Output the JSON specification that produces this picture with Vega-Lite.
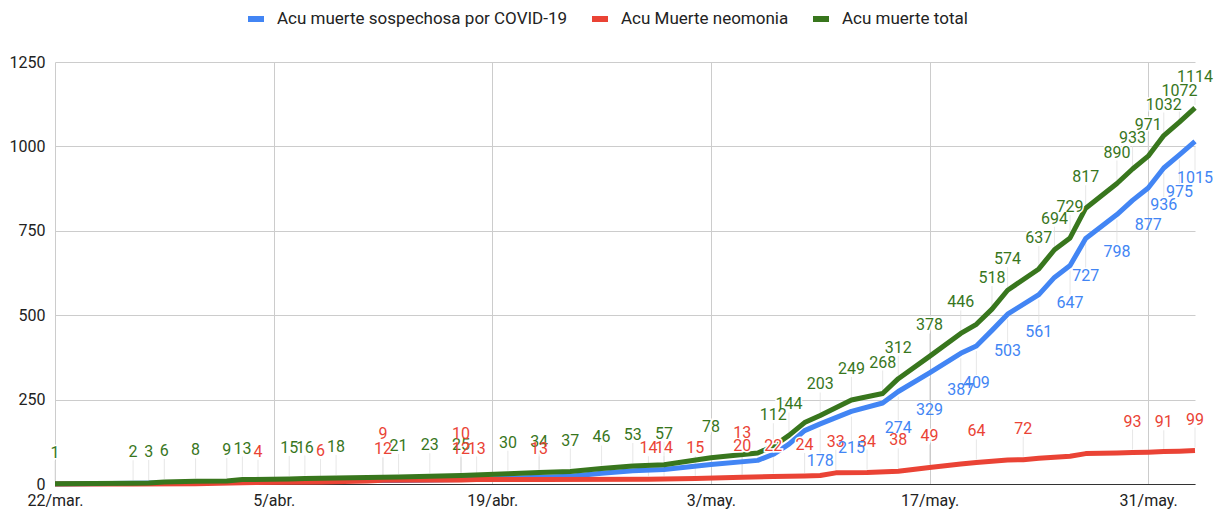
{
  "$schema": "https://vega.github.io/schema/vega-lite/v6.json",
  "width": 1140,
  "height": 422,
  "autosize": {"type": "none"},
  "padding": {"left": 55, "top": 62, "right": 26, "bottom": 29},
  "background": "white",
  "config": {
    "view": {"stroke": null},
    "font": "Roboto",
    "axis": {"labelFont": "Roboto", "labelColor": "#222222", "labelFontSize": 16, "ticks": false, "title": null, "gridColor": "#cccccc", "gridWidth": 1}
  },
  "datasets": {
    "lineas": [
      {"fecha": "2020-03-22T00:00", "serie": "Acu muerte sospechosa por COVID-19", "valor": 0},
      {"fecha": "2020-03-29T00:00", "serie": "Acu muerte sospechosa por COVID-19", "valor": 3},
      {"fecha": "2020-04-03T00:00", "serie": "Acu muerte sospechosa por COVID-19", "valor": 8},
      {"fecha": "2020-04-09T00:00", "serie": "Acu muerte sospechosa por COVID-19", "valor": 10},
      {"fecha": "2020-04-13T00:00", "serie": "Acu muerte sospechosa por COVID-19", "valor": 10},
      {"fecha": "2020-04-17T00:00", "serie": "Acu muerte sospechosa por COVID-19", "valor": 13},
      {"fecha": "2020-04-20T00:00", "serie": "Acu muerte sospechosa por COVID-19", "valor": 17},
      {"fecha": "2020-04-24T00:00", "serie": "Acu muerte sospechosa por COVID-19", "valor": 23},
      {"fecha": "2020-04-26T00:00", "serie": "Acu muerte sospechosa por COVID-19", "valor": 32},
      {"fecha": "2020-04-28T00:00", "serie": "Acu muerte sospechosa por COVID-19", "valor": 39},
      {"fecha": "2020-04-30T00:00", "serie": "Acu muerte sospechosa por COVID-19", "valor": 43},
      {"fecha": "2020-05-03T00:00", "serie": "Acu muerte sospechosa por COVID-19", "valor": 58},
      {"fecha": "2020-05-06T00:00", "serie": "Acu muerte sospechosa por COVID-19", "valor": 70},
      {"fecha": "2020-05-07T00:00", "serie": "Acu muerte sospechosa por COVID-19", "valor": 88},
      {"fecha": "2020-05-08T00:00", "serie": "Acu muerte sospechosa por COVID-19", "valor": 118},
      {"fecha": "2020-05-09T00:00", "serie": "Acu muerte sospechosa por COVID-19", "valor": 158},
      {"fecha": "2020-05-10T00:00", "serie": "Acu muerte sospechosa por COVID-19", "valor": 178},
      {"fecha": "2020-05-12T00:00", "serie": "Acu muerte sospechosa por COVID-19", "valor": 215},
      {"fecha": "2020-05-14T00:00", "serie": "Acu muerte sospechosa por COVID-19", "valor": 240},
      {"fecha": "2020-05-15T00:00", "serie": "Acu muerte sospechosa por COVID-19", "valor": 274},
      {"fecha": "2020-05-17T00:00", "serie": "Acu muerte sospechosa por COVID-19", "valor": 329},
      {"fecha": "2020-05-19T00:00", "serie": "Acu muerte sospechosa por COVID-19", "valor": 387},
      {"fecha": "2020-05-20T00:00", "serie": "Acu muerte sospechosa por COVID-19", "valor": 409},
      {"fecha": "2020-05-21T00:00", "serie": "Acu muerte sospechosa por COVID-19", "valor": 455},
      {"fecha": "2020-05-22T00:00", "serie": "Acu muerte sospechosa por COVID-19", "valor": 503},
      {"fecha": "2020-05-24T00:00", "serie": "Acu muerte sospechosa por COVID-19", "valor": 561},
      {"fecha": "2020-05-25T00:00", "serie": "Acu muerte sospechosa por COVID-19", "valor": 612},
      {"fecha": "2020-05-26T00:00", "serie": "Acu muerte sospechosa por COVID-19", "valor": 647},
      {"fecha": "2020-05-27T00:00", "serie": "Acu muerte sospechosa por COVID-19", "valor": 727},
      {"fecha": "2020-05-29T00:00", "serie": "Acu muerte sospechosa por COVID-19", "valor": 798},
      {"fecha": "2020-05-30T00:00", "serie": "Acu muerte sospechosa por COVID-19", "valor": 840},
      {"fecha": "2020-05-31T00:00", "serie": "Acu muerte sospechosa por COVID-19", "valor": 877},
      {"fecha": "2020-06-01T00:00", "serie": "Acu muerte sospechosa por COVID-19", "valor": 936},
      {"fecha": "2020-06-02T00:00", "serie": "Acu muerte sospechosa por COVID-19", "valor": 975},
      {"fecha": "2020-06-03T00:00", "serie": "Acu muerte sospechosa por COVID-19", "valor": 1015},
      {"fecha": "2020-03-22T00:00", "serie": "Acu Muerte neomonia", "valor": 0},
      {"fecha": "2020-03-27T00:00", "serie": "Acu Muerte neomonia", "valor": 0},
      {"fecha": "2020-03-31T00:00", "serie": "Acu Muerte neomonia", "valor": 1},
      {"fecha": "2020-04-03T00:00", "serie": "Acu Muerte neomonia", "valor": 4},
      {"fecha": "2020-04-08T00:00", "serie": "Acu Muerte neomonia", "valor": 6},
      {"fecha": "2020-04-11T00:00", "serie": "Acu Muerte neomonia", "valor": 9},
      {"fecha": "2020-04-12T00:00", "serie": "Acu Muerte neomonia", "valor": 11},
      {"fecha": "2020-04-17T00:00", "serie": "Acu Muerte neomonia", "valor": 12},
      {"fecha": "2020-04-18T00:00", "serie": "Acu Muerte neomonia", "valor": 13},
      {"fecha": "2020-04-22T00:00", "serie": "Acu Muerte neomonia", "valor": 13},
      {"fecha": "2020-04-29T00:00", "serie": "Acu Muerte neomonia", "valor": 14},
      {"fecha": "2020-04-30T00:00", "serie": "Acu Muerte neomonia", "valor": 15},
      {"fecha": "2020-05-02T00:00", "serie": "Acu Muerte neomonia", "valor": 16},
      {"fecha": "2020-05-05T00:00", "serie": "Acu Muerte neomonia", "valor": 20},
      {"fecha": "2020-05-07T00:00", "serie": "Acu Muerte neomonia", "valor": 22},
      {"fecha": "2020-05-09T00:00", "serie": "Acu Muerte neomonia", "valor": 24},
      {"fecha": "2020-05-10T00:00", "serie": "Acu Muerte neomonia", "valor": 25},
      {"fecha": "2020-05-11T00:00", "serie": "Acu Muerte neomonia", "valor": 33},
      {"fecha": "2020-05-13T00:00", "serie": "Acu Muerte neomonia", "valor": 34},
      {"fecha": "2020-05-15T00:00", "serie": "Acu Muerte neomonia", "valor": 38},
      {"fecha": "2020-05-17T00:00", "serie": "Acu Muerte neomonia", "valor": 49},
      {"fecha": "2020-05-19T00:00", "serie": "Acu Muerte neomonia", "valor": 59},
      {"fecha": "2020-05-20T00:00", "serie": "Acu Muerte neomonia", "valor": 64},
      {"fecha": "2020-05-22T00:00", "serie": "Acu Muerte neomonia", "valor": 71},
      {"fecha": "2020-05-23T00:00", "serie": "Acu Muerte neomonia", "valor": 72},
      {"fecha": "2020-05-24T00:00", "serie": "Acu Muerte neomonia", "valor": 76},
      {"fecha": "2020-05-26T00:00", "serie": "Acu Muerte neomonia", "valor": 82},
      {"fecha": "2020-05-27T00:00", "serie": "Acu Muerte neomonia", "valor": 90},
      {"fecha": "2020-05-29T00:00", "serie": "Acu Muerte neomonia", "valor": 92},
      {"fecha": "2020-05-30T00:00", "serie": "Acu Muerte neomonia", "valor": 93},
      {"fecha": "2020-05-31T00:00", "serie": "Acu Muerte neomonia", "valor": 94},
      {"fecha": "2020-06-01T00:00", "serie": "Acu Muerte neomonia", "valor": 96},
      {"fecha": "2020-06-02T00:00", "serie": "Acu Muerte neomonia", "valor": 97},
      {"fecha": "2020-06-03T00:00", "serie": "Acu Muerte neomonia", "valor": 99},
      {"fecha": "2020-03-22T00:00", "serie": "Acu muerte total", "valor": 1},
      {"fecha": "2020-03-27T00:00", "serie": "Acu muerte total", "valor": 2},
      {"fecha": "2020-03-28T00:00", "serie": "Acu muerte total", "valor": 3},
      {"fecha": "2020-03-29T00:00", "serie": "Acu muerte total", "valor": 6},
      {"fecha": "2020-03-31T00:00", "serie": "Acu muerte total", "valor": 8},
      {"fecha": "2020-04-02T00:00", "serie": "Acu muerte total", "valor": 9},
      {"fecha": "2020-04-03T00:00", "serie": "Acu muerte total", "valor": 13},
      {"fecha": "2020-04-06T00:00", "serie": "Acu muerte total", "valor": 15},
      {"fecha": "2020-04-07T00:00", "serie": "Acu muerte total", "valor": 16},
      {"fecha": "2020-04-09T00:00", "serie": "Acu muerte total", "valor": 18},
      {"fecha": "2020-04-13T00:00", "serie": "Acu muerte total", "valor": 21},
      {"fecha": "2020-04-15T00:00", "serie": "Acu muerte total", "valor": 23},
      {"fecha": "2020-04-17T00:00", "serie": "Acu muerte total", "valor": 25},
      {"fecha": "2020-04-20T00:00", "serie": "Acu muerte total", "valor": 30},
      {"fecha": "2020-04-22T00:00", "serie": "Acu muerte total", "valor": 34},
      {"fecha": "2020-04-24T00:00", "serie": "Acu muerte total", "valor": 37},
      {"fecha": "2020-04-26T00:00", "serie": "Acu muerte total", "valor": 46},
      {"fecha": "2020-04-28T00:00", "serie": "Acu muerte total", "valor": 53},
      {"fecha": "2020-04-30T00:00", "serie": "Acu muerte total", "valor": 57},
      {"fecha": "2020-05-03T00:00", "serie": "Acu muerte total", "valor": 78},
      {"fecha": "2020-05-06T00:00", "serie": "Acu muerte total", "valor": 92},
      {"fecha": "2020-05-07T00:00", "serie": "Acu muerte total", "valor": 112},
      {"fecha": "2020-05-08T00:00", "serie": "Acu muerte total", "valor": 144},
      {"fecha": "2020-05-09T00:00", "serie": "Acu muerte total", "valor": 182},
      {"fecha": "2020-05-10T00:00", "serie": "Acu muerte total", "valor": 203},
      {"fecha": "2020-05-12T00:00", "serie": "Acu muerte total", "valor": 249},
      {"fecha": "2020-05-14T00:00", "serie": "Acu muerte total", "valor": 268},
      {"fecha": "2020-05-15T00:00", "serie": "Acu muerte total", "valor": 312},
      {"fecha": "2020-05-17T00:00", "serie": "Acu muerte total", "valor": 378},
      {"fecha": "2020-05-19T00:00", "serie": "Acu muerte total", "valor": 446},
      {"fecha": "2020-05-20T00:00", "serie": "Acu muerte total", "valor": 473},
      {"fecha": "2020-05-21T00:00", "serie": "Acu muerte total", "valor": 518},
      {"fecha": "2020-05-22T00:00", "serie": "Acu muerte total", "valor": 574},
      {"fecha": "2020-05-24T00:00", "serie": "Acu muerte total", "valor": 637},
      {"fecha": "2020-05-25T00:00", "serie": "Acu muerte total", "valor": 694},
      {"fecha": "2020-05-26T00:00", "serie": "Acu muerte total", "valor": 729},
      {"fecha": "2020-05-27T00:00", "serie": "Acu muerte total", "valor": 817},
      {"fecha": "2020-05-29T00:00", "serie": "Acu muerte total", "valor": 890},
      {"fecha": "2020-05-30T00:00", "serie": "Acu muerte total", "valor": 933},
      {"fecha": "2020-05-31T00:00", "serie": "Acu muerte total", "valor": 971},
      {"fecha": "2020-06-01T00:00", "serie": "Acu muerte total", "valor": 1032},
      {"fecha": "2020-06-02T00:00", "serie": "Acu muerte total", "valor": 1072},
      {"fecha": "2020-06-03T00:00", "serie": "Acu muerte total", "valor": 1114}
    ],
    "etiquetas": [
      {"fecha": "2020-03-22T00:00", "serie": "Acu muerte total", "etiqueta": 1},
      {"fecha": "2020-03-27T00:00", "serie": "Acu muerte total", "etiqueta": 2},
      {"fecha": "2020-03-28T00:00", "serie": "Acu muerte total", "etiqueta": 3},
      {"fecha": "2020-03-29T00:00", "serie": "Acu muerte total", "etiqueta": 6},
      {"fecha": "2020-03-31T00:00", "serie": "Acu muerte total", "etiqueta": 8},
      {"fecha": "2020-04-02T00:00", "serie": "Acu muerte total", "etiqueta": 9},
      {"fecha": "2020-04-03T00:00", "serie": "Acu muerte total", "etiqueta": 13},
      {"fecha": "2020-04-06T00:00", "serie": "Acu muerte total", "etiqueta": 15},
      {"fecha": "2020-04-07T00:00", "serie": "Acu muerte total", "etiqueta": 16},
      {"fecha": "2020-04-09T00:00", "serie": "Acu muerte total", "etiqueta": 18},
      {"fecha": "2020-04-13T00:00", "serie": "Acu muerte total", "etiqueta": 21},
      {"fecha": "2020-04-15T00:00", "serie": "Acu muerte total", "etiqueta": 23},
      {"fecha": "2020-04-17T00:00", "serie": "Acu muerte total", "etiqueta": 25},
      {"fecha": "2020-04-20T00:00", "serie": "Acu muerte total", "etiqueta": 30},
      {"fecha": "2020-04-22T00:00", "serie": "Acu muerte total", "etiqueta": 34},
      {"fecha": "2020-04-24T00:00", "serie": "Acu muerte total", "etiqueta": 37},
      {"fecha": "2020-04-26T00:00", "serie": "Acu muerte total", "etiqueta": 46},
      {"fecha": "2020-04-28T00:00", "serie": "Acu muerte total", "etiqueta": 53},
      {"fecha": "2020-04-30T00:00", "serie": "Acu muerte total", "etiqueta": 57},
      {"fecha": "2020-05-03T00:00", "serie": "Acu muerte total", "etiqueta": 78},
      {"fecha": "2020-05-07T00:00", "serie": "Acu muerte total", "etiqueta": 112},
      {"fecha": "2020-05-08T00:00", "serie": "Acu muerte total", "etiqueta": 144},
      {"fecha": "2020-05-10T00:00", "serie": "Acu muerte total", "etiqueta": 203},
      {"fecha": "2020-05-12T00:00", "serie": "Acu muerte total", "etiqueta": 249},
      {"fecha": "2020-05-14T00:00", "serie": "Acu muerte total", "etiqueta": 268},
      {"fecha": "2020-05-15T00:00", "serie": "Acu muerte total", "etiqueta": 312},
      {"fecha": "2020-05-17T00:00", "serie": "Acu muerte total", "etiqueta": 378},
      {"fecha": "2020-05-19T00:00", "serie": "Acu muerte total", "etiqueta": 446},
      {"fecha": "2020-05-21T00:00", "serie": "Acu muerte total", "etiqueta": 518},
      {"fecha": "2020-05-22T00:00", "serie": "Acu muerte total", "etiqueta": 574},
      {"fecha": "2020-05-24T00:00", "serie": "Acu muerte total", "etiqueta": 637},
      {"fecha": "2020-05-25T00:00", "serie": "Acu muerte total", "etiqueta": 694},
      {"fecha": "2020-05-26T00:00", "serie": "Acu muerte total", "etiqueta": 729},
      {"fecha": "2020-05-27T00:00", "serie": "Acu muerte total", "etiqueta": 817},
      {"fecha": "2020-05-29T00:00", "serie": "Acu muerte total", "etiqueta": 890},
      {"fecha": "2020-05-30T00:00", "serie": "Acu muerte total", "etiqueta": 933},
      {"fecha": "2020-05-31T00:00", "serie": "Acu muerte total", "etiqueta": 971},
      {"fecha": "2020-06-01T00:00", "serie": "Acu muerte total", "etiqueta": 1032},
      {"fecha": "2020-06-02T00:00", "serie": "Acu muerte total", "etiqueta": 1072},
      {"fecha": "2020-06-03T00:00", "serie": "Acu muerte total", "etiqueta": 1114},
      {"fecha": "2020-05-10T00:00", "serie": "Acu muerte sospechosa por COVID-19", "etiqueta": 178},
      {"fecha": "2020-05-12T00:00", "serie": "Acu muerte sospechosa por COVID-19", "etiqueta": 215},
      {"fecha": "2020-05-15T00:00", "serie": "Acu muerte sospechosa por COVID-19", "etiqueta": 274},
      {"fecha": "2020-05-17T00:00", "serie": "Acu muerte sospechosa por COVID-19", "etiqueta": 329},
      {"fecha": "2020-05-19T00:00", "serie": "Acu muerte sospechosa por COVID-19", "etiqueta": 387},
      {"fecha": "2020-05-20T00:00", "serie": "Acu muerte sospechosa por COVID-19", "etiqueta": 409},
      {"fecha": "2020-05-22T00:00", "serie": "Acu muerte sospechosa por COVID-19", "etiqueta": 503},
      {"fecha": "2020-05-24T00:00", "serie": "Acu muerte sospechosa por COVID-19", "etiqueta": 561},
      {"fecha": "2020-05-26T00:00", "serie": "Acu muerte sospechosa por COVID-19", "etiqueta": 647},
      {"fecha": "2020-05-27T00:00", "serie": "Acu muerte sospechosa por COVID-19", "etiqueta": 727},
      {"fecha": "2020-05-29T00:00", "serie": "Acu muerte sospechosa por COVID-19", "etiqueta": 798},
      {"fecha": "2020-05-31T00:00", "serie": "Acu muerte sospechosa por COVID-19", "etiqueta": 877},
      {"fecha": "2020-06-01T00:00", "serie": "Acu muerte sospechosa por COVID-19", "etiqueta": 936},
      {"fecha": "2020-06-02T00:00", "serie": "Acu muerte sospechosa por COVID-19", "etiqueta": 975},
      {"fecha": "2020-06-03T00:00", "serie": "Acu muerte sospechosa por COVID-19", "etiqueta": 1015},
      {"fecha": "2020-04-04T00:00", "serie": "Acu Muerte neomonia", "etiqueta": 4},
      {"fecha": "2020-04-08T00:00", "serie": "Acu Muerte neomonia", "etiqueta": 6},
      {"fecha": "2020-04-12T00:00", "serie": "Acu Muerte neomonia", "etiqueta": 12},
      {"fecha": "2020-04-12T00:00", "serie": "Acu Muerte neomonia", "etiqueta": 9},
      {"fecha": "2020-04-17T00:00", "serie": "Acu Muerte neomonia", "etiqueta": 12},
      {"fecha": "2020-04-17T00:00", "serie": "Acu Muerte neomonia", "etiqueta": 10},
      {"fecha": "2020-04-18T00:00", "serie": "Acu Muerte neomonia", "etiqueta": 13},
      {"fecha": "2020-04-22T00:00", "serie": "Acu Muerte neomonia", "etiqueta": 13},
      {"fecha": "2020-04-29T00:00", "serie": "Acu Muerte neomonia", "etiqueta": 14},
      {"fecha": "2020-04-30T00:00", "serie": "Acu Muerte neomonia", "etiqueta": 14},
      {"fecha": "2020-05-02T00:00", "serie": "Acu Muerte neomonia", "etiqueta": 15},
      {"fecha": "2020-05-05T00:00", "serie": "Acu Muerte neomonia", "etiqueta": 20},
      {"fecha": "2020-05-05T00:00", "serie": "Acu Muerte neomonia", "etiqueta": 13},
      {"fecha": "2020-05-07T00:00", "serie": "Acu Muerte neomonia", "etiqueta": 22},
      {"fecha": "2020-05-09T00:00", "serie": "Acu Muerte neomonia", "etiqueta": 24},
      {"fecha": "2020-05-11T00:00", "serie": "Acu Muerte neomonia", "etiqueta": 33},
      {"fecha": "2020-05-13T00:00", "serie": "Acu Muerte neomonia", "etiqueta": 34},
      {"fecha": "2020-05-15T00:00", "serie": "Acu Muerte neomonia", "etiqueta": 38},
      {"fecha": "2020-05-17T00:00", "serie": "Acu Muerte neomonia", "etiqueta": 49},
      {"fecha": "2020-05-20T00:00", "serie": "Acu Muerte neomonia", "etiqueta": 64},
      {"fecha": "2020-05-23T00:00", "serie": "Acu Muerte neomonia", "etiqueta": 72},
      {"fecha": "2020-05-30T00:00", "serie": "Acu Muerte neomonia", "etiqueta": 93},
      {"fecha": "2020-06-01T00:00", "serie": "Acu Muerte neomonia", "etiqueta": 91},
      {"fecha": "2020-06-03T00:00", "serie": "Acu Muerte neomonia", "etiqueta": 99}
    ]
  },
  "encoding": {
    "x": {
      "field": "fecha",
      "type": "temporal",
      "scale": {"domain": [{"year": 2020, "month": 3, "date": 22}, {"year": 2020, "month": 6, "date": 3}]},
      "axis": {
        "values": [
          {"year": 2020, "month": 3, "date": 22},
          {"year": 2020, "month": 4, "date": 5},
          {"year": 2020, "month": 4, "date": 19},
          {"year": 2020, "month": 5, "date": 3},
          {"year": 2020, "month": 5, "date": 17},
          {"year": 2020, "month": 5, "date": 31}
        ],
        "labelExpr": "date(datum.value) + '/' + ['ene','feb','mar','abr','may','jun','jul'][month(datum.value)] + '.'",
        "grid": true,
        "domain": true,
        "domainColor": "#333333",
        "domainWidth": 1,
        "labelPadding": 8,
        "labelFlush": false,
        "labelOverlap": false,
        "title": null
      }
    },
    "color": {
      "field": "serie",
      "type": "nominal",
      "scale": {
        "domain": ["Acu muerte sospechosa por COVID-19", "Acu Muerte neomonia", "Acu muerte total"],
        "range": ["#4285F4", "#EA4335", "#38761D"]
      },
      "legend": {
        "orient": "none",
        "direction": "horizontal",
        "legendX": 190,
        "legendY": -54,
        "title": null,
        "symbolType": "stroke",
        "symbolSize": 256,
        "symbolStrokeWidth": 6,
        "labelFont": "Roboto",
        "labelFontSize": 17,
        "labelColor": "#222222",
        "labelOffset": 10,
        "columnPadding": 12,
        "padding": 0,
        "labelLimit": 400
      }
    }
  },
  "layer": [
    {
      "data": {"name": "etiquetas"},
      "transform": [{"filter": "datum.serie !== 'Acu muerte sospechosa por COVID-19'"}],
      "mark": {"type": "tick", "orient": "vertical", "size": 20, "thickness": 1, "yOffset": -13},
      "encoding": {
        "y": {"field": "etiqueta", "type": "quantitative", "scale": {"domain": [0, 1250], "nice": false}},
        "color": {"value": "#dddddd"}
      }
    },
    {
      "data": {"name": "etiquetas"},
      "transform": [{"filter": "datum.serie === 'Acu muerte sospechosa por COVID-19'"}],
      "mark": {"type": "tick", "orient": "vertical", "size": 24, "thickness": 1, "yOffset": 17},
      "encoding": {
        "y": {"field": "etiqueta", "type": "quantitative", "scale": {"domain": [0, 1250], "nice": false}},
        "color": {"value": "#dddddd"}
      }
    },
    {
      "data": {"name": "lineas"},
      "mark": {"type": "line", "strokeWidth": 5, "strokeJoin": "round"},
      "encoding": {
        "y": {
          "field": "valor",
          "type": "quantitative",
          "scale": {"domain": [0, 1250], "nice": false},
          "axis": {
            "values": [0, 250, 500, 750, 1000, 1250],
            "format": "d",
            "grid": true,
            "domain": false,
            "labelPadding": 10,
            "title": null
          }
        }
      }
    },
    {
      "data": {"name": "etiquetas"},
      "transform": [
        {"window": [{"op": "row_number", "as": "rango"}], "groupby": ["fecha", "serie"]},
        {"filter": "datum.serie !== 'Acu muerte sospechosa por COVID-19' && datum.rango === 1"}
      ],
      "mark": {"type": "text", "fontSize": 16, "font": "Roboto", "dy": -31, "baseline": "middle", "stroke": "white", "strokeWidth": 3, "fill": "white"},
      "encoding": {
        "y": {"field": "etiqueta", "type": "quantitative", "scale": {"domain": [0, 1250], "nice": false}},
        "text": {"field": "etiqueta", "type": "quantitative"},
        "color": {"value": "white"}
      }
    },
    {
      "data": {"name": "etiquetas"},
      "transform": [
        {"window": [{"op": "row_number", "as": "rango"}], "groupby": ["fecha", "serie"]},
        {"filter": "datum.serie !== 'Acu muerte sospechosa por COVID-19' && datum.rango === 1"}
      ],
      "mark": {"type": "text", "fontSize": 16, "font": "Roboto", "dy": -31, "baseline": "middle"},
      "encoding": {
        "y": {"field": "etiqueta", "type": "quantitative", "scale": {"domain": [0, 1250], "nice": false}},
        "text": {"field": "etiqueta", "type": "quantitative"}
      }
    },
    {
      "data": {"name": "etiquetas"},
      "transform": [
        {"window": [{"op": "row_number", "as": "rango"}], "groupby": ["fecha", "serie"]},
        {"filter": "datum.serie !== 'Acu muerte sospechosa por COVID-19' && datum.rango === 2"}
      ],
      "mark": {"type": "text", "fontSize": 16, "font": "Roboto", "dy": -47, "baseline": "middle"},
      "encoding": {
        "y": {"field": "etiqueta", "type": "quantitative", "scale": {"domain": [0, 1250], "nice": false}},
        "text": {"field": "etiqueta", "type": "quantitative"}
      }
    },
    {
      "data": {"name": "etiquetas"},
      "transform": [{"filter": "datum.serie === 'Acu muerte sospechosa por COVID-19'"}],
      "mark": {"type": "text", "fontSize": 16, "font": "Roboto", "dy": 37, "baseline": "middle"},
      "encoding": {
        "y": {"field": "etiqueta", "type": "quantitative", "scale": {"domain": [0, 1250], "nice": false}},
        "text": {"field": "etiqueta", "type": "quantitative"}
      }
    }
  ]
}
